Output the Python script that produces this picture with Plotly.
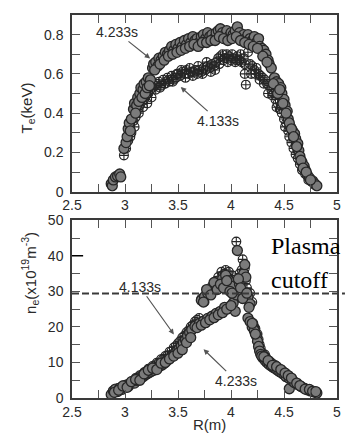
import plotly.graph_objects as go

# ---------------- data ----------------
# Top panel: Te (keV) vs R (m)
te_r_4233 = [2.87, 2.88, 2.89, 2.91, 2.93, 2.95, 2.96,
             2.99, 3.01, 3.02, 3.03, 3.04, 3.06, 3.08, 3.09, 3.11, 3.12, 3.14, 3.15, 3.17, 3.18, 3.2, 3.22, 3.24,
             3.26, 3.27, 3.29, 3.31, 3.32, 3.34, 3.36, 3.38, 3.4, 3.42, 3.44, 3.46, 3.48, 3.5, 3.52, 3.54, 3.56,
             3.58, 3.6, 3.62, 3.64, 3.66, 3.68, 3.7, 3.72, 3.74, 3.76, 3.78, 3.8, 3.82, 3.84, 3.86, 3.88, 3.9,
             3.92, 3.94, 3.96, 3.98, 4.0, 4.02, 4.04, 4.06, 4.08, 4.1, 4.12, 4.14, 4.16, 4.18, 4.2, 4.22, 4.24,
             4.26, 4.27, 4.29, 4.31, 4.33, 4.35, 4.36, 4.38,
             4.41, 4.43, 4.45, 4.47, 4.48, 4.5, 4.51, 4.53, 4.54, 4.56, 4.58, 4.6, 4.61, 4.63, 4.64, 4.65, 4.67,
             4.69, 4.7, 4.72, 4.74, 4.77, 4.79, 4.81,
             3.28, 3.33, 3.37, 3.41, 3.45, 3.49, 3.53, 3.57, 3.61, 3.65, 3.69, 3.73, 3.77, 3.81, 3.85, 3.89,
             3.93, 3.97, 4.01, 4.05, 4.09, 4.13, 4.17, 4.21, 4.25, 4.3, 4.34,
             3.05, 3.1, 3.13, 3.16, 3.19, 3.21, 3.23,
             4.4, 4.44, 4.46, 4.49, 4.52, 4.55, 4.57, 4.59, 4.62, 4.66, 4.68, 4.71, 4.75]
te_v_4233 = [0.04, 0.03, 0.06, 0.075, 0.08, 0.09, 0.075,
             0.22, 0.25, 0.28, 0.32, 0.35, 0.37, 0.42, 0.45, 0.44, 0.48, 0.5, 0.53, 0.52, 0.55, 0.56, 0.58, 0.57,
             0.63, 0.65, 0.66, 0.64, 0.68, 0.67, 0.69, 0.71, 0.7, 0.72, 0.74, 0.72, 0.75, 0.73, 0.76, 0.74, 0.77,
             0.75, 0.78, 0.76, 0.79, 0.77, 0.78, 0.76, 0.79, 0.8, 0.78, 0.81, 0.79, 0.8, 0.78, 0.81, 0.82, 0.83,
             0.81, 0.8, 0.82, 0.79, 0.81, 0.8, 0.82, 0.84, 0.81, 0.79, 0.8, 0.78, 0.8, 0.78, 0.77, 0.79, 0.76,
             0.78, 0.74, 0.73, 0.72, 0.7, 0.67, 0.65, 0.63,
             0.58, 0.56, 0.55, 0.53, 0.5, 0.47, 0.44, 0.41, 0.37, 0.33, 0.31, 0.295, 0.27, 0.245, 0.21, 0.18, 0.15,
             0.13, 0.11, 0.085, 0.07, 0.055, 0.04, 0.03,
             0.62, 0.65, 0.67, 0.69, 0.7, 0.71, 0.72, 0.73, 0.74, 0.75, 0.74, 0.76, 0.76, 0.77, 0.77, 0.79,
             0.78, 0.77, 0.78, 0.79, 0.77, 0.76, 0.75, 0.74, 0.73, 0.69, 0.66,
             0.31, 0.4, 0.46, 0.48, 0.5, 0.53, 0.54,
             0.55, 0.5, 0.52, 0.45, 0.4, 0.35, 0.32, 0.28, 0.23, 0.16, 0.12, 0.1, 0.06]

te_r_4133 = [2.99, 3.01, 3.03, 3.06, 3.08, 3.1, 3.12, 3.14, 3.16, 3.18, 3.2, 3.22, 3.24, 3.26,
             3.28, 3.3, 3.32, 3.34, 3.36, 3.38, 3.4, 3.42, 3.44, 3.46, 3.48, 3.5, 3.52, 3.54, 3.56, 3.58, 3.6,
             3.62, 3.64, 3.66, 3.68, 3.7, 3.72, 3.74, 3.76, 3.78, 3.8, 3.82, 3.84, 3.86, 3.88, 3.9, 3.92, 3.94,
             3.96, 3.98, 4.0, 4.02, 4.04, 4.06, 4.08, 4.1, 4.12, 4.13, 4.14, 4.16, 4.18, 4.2, 4.22, 4.24, 4.26,
             4.28, 4.3, 4.32, 4.34, 4.36, 4.38, 4.4, 4.42, 4.44, 4.46, 4.48, 4.5, 4.52, 4.54, 4.55, 4.57, 4.59,
             4.61, 4.63, 4.65, 4.67, 4.7, 4.73, 4.76, 4.79,
             3.29, 3.33, 3.37, 3.41, 3.45, 3.49, 3.53, 3.57, 3.61, 3.65, 3.69, 3.73, 3.77, 3.81, 3.85, 3.89,
             3.93, 3.97, 4.01, 4.05, 4.09, 4.13, 4.19, 4.23, 4.27, 4.31, 4.35, 4.39, 4.43, 4.47, 4.51,
             3.05, 3.09, 3.13, 3.17, 3.21, 3.25]
te_v_4133 = [0.185, 0.22, 0.26, 0.3, 0.36, 0.38, 0.42, 0.44, 0.46, 0.47, 0.49, 0.5, 0.52, 0.53,
             0.54, 0.55, 0.56, 0.54, 0.57, 0.55, 0.58, 0.56, 0.59, 0.57, 0.58, 0.6, 0.59, 0.61, 0.6, 0.62, 0.6,
             0.61, 0.59, 0.62, 0.6, 0.62, 0.61, 0.63, 0.62, 0.64, 0.63, 0.65, 0.64, 0.66, 0.68, 0.69, 0.7, 0.68,
             0.7, 0.69, 0.67, 0.68, 0.66, 0.69, 0.67, 0.66, 0.68, 0.6, 0.545, 0.71, 0.65, 0.64, 0.62, 0.63, 0.6,
             0.59, 0.58, 0.57, 0.55, 0.54, 0.52, 0.5, 0.47, 0.45, 0.42, 0.4, 0.37, 0.35, 0.31, 0.28, 0.25, 0.22,
             0.19, 0.17, 0.14, 0.11, 0.09, 0.06, 0.05, 0.035,
             0.52, 0.53, 0.55, 0.57, 0.56, 0.6, 0.62, 0.58, 0.63, 0.61, 0.64, 0.6, 0.66, 0.61, 0.62, 0.65,
             0.67, 0.66, 0.7, 0.67, 0.7, 0.65, 0.6, 0.6, 0.57, 0.55, 0.5, 0.49, 0.43, 0.44, 0.33,
             0.28, 0.33, 0.4, 0.43, 0.45, 0.48]

# Bottom panel: ne (1e19 m^-3) vs R (m)
ne_r_4233 = [2.87, 2.89, 2.91, 2.93, 2.95, 2.97, 2.99, 3.01, 3.03, 3.05, 3.07, 3.09, 3.11, 3.13, 3.15, 3.17,
             3.19, 3.21, 3.23, 3.25, 3.27, 3.29, 3.31, 3.33, 3.35, 3.37, 3.39, 3.41, 3.43, 3.45, 3.47, 3.49,
             3.51, 3.53, 3.55, 3.57, 3.59, 3.61, 3.63, 3.66, 3.7, 3.74, 3.78, 3.82, 3.86, 3.9, 3.94,
             3.72, 3.75, 3.78, 3.8, 3.83, 3.86, 3.89, 3.92, 3.95, 3.98, 4.0, 4.02, 4.04, 4.05, 4.06, 4.08, 4.1,
             4.12, 4.13, 4.14, 4.16, 4.18, 4.17,
             4.16, 4.18, 4.2, 4.22, 4.24, 4.25, 4.26, 4.27, 4.28, 4.3, 4.32, 4.34, 4.36, 4.38, 4.4, 4.42, 4.44,
             4.46, 4.48, 4.5, 4.52, 4.55, 4.55, 4.58, 4.6, 4.63, 4.66, 4.69, 4.72, 4.75, 4.78, 4.81,
             2.9, 2.94, 2.98, 3.02, 3.06, 3.1, 3.14, 3.18, 3.22, 3.26, 3.3, 3.34, 3.38, 3.42, 3.46, 3.5,
             3.54, 3.58, 3.62, 3.68, 3.72, 3.76, 3.8, 3.84, 3.88, 3.92, 3.96, 4.0,
             3.74, 3.77, 3.81, 3.84, 3.87, 3.9, 3.93, 3.96, 3.99, 4.01, 4.07, 4.09, 4.11, 4.15,
             4.2, 4.23, 4.29, 4.31, 4.35, 4.39, 4.43, 4.47, 4.51, 4.54, 4.57, 4.62, 4.65, 4.7, 4.74, 4.77, 4.8]
ne_v_4233 = [1.0, 2.0, 2.5, 1.8, 2.8, 2.4, 3.0, 3.6, 3.2, 4.0, 4.5, 4.2, 5.0, 5.4, 5.8, 6.0,
             6.5, 6.8, 7.2, 7.5, 7.8, 8.2, 8.6, 9.0, 9.3, 9.8, 10.4, 10.9, 11.5, 12.0, 12.6, 13.2,
             13.8, 14.6, 15.5, 16.4, 17.5, 18.4, 19.2, 20.2, 20.9, 21.6, 22.4, 23.0, 23.8, 24.4, 25.5,
             27.5, 28.5, 29.5, 30.5, 31.0, 32.0, 33.0, 33.5, 34.5, 33.0, 31.5, 26.7, 24.4, 29.0, 41.5, 32.0, 30.0,
             35.0, 37.5, 34.0, 28.5, 26.5, 25.5,
             22.5, 21.5, 20.0, 19.0, 17.5, 16.0, 14.5, 13.2, 12.3, 11.3, 10.6, 10.0, 9.4, 9.0, 8.6, 8.2, 7.8,
             7.4, 7.0, 6.6, 6.0, 5.5, 2.6, 4.8, 4.3, 3.8, 3.2, 2.8, 2.3, 2.0, 1.7, 1.4,
             1.6, 2.2, 3.4, 3.0, 4.6, 5.2, 5.0, 6.8, 7.8, 8.4, 8.0, 9.8, 10.0, 11.0, 11.8, 12.6,
             13.6, 15.6, 17.0, 19.8, 20.5, 21.2, 22.0, 22.6, 23.4, 24.0, 25.0, 26.0,
             27.0, 30.5, 29.0, 32.5, 30.5, 32.0, 31.0, 33.0, 30.0, 29.5, 33.5, 31.0, 28.0, 29.5,
             21.0, 18.0, 11.8, 11.6, 10.5, 9.2, 8.8, 8.0, 7.0, 6.3, 5.6, 4.2, 3.5, 2.5, 2.4, 1.9, 1.8]

ne_r_4133 = [2.88, 2.92, 2.96, 3.0, 3.04, 3.08, 3.12, 3.16, 3.2, 3.24, 3.28, 3.32, 3.36, 3.4, 3.44, 3.48,
             3.52, 3.56, 3.6, 3.64, 3.68, 3.7,
             3.72, 3.75, 3.78, 3.82, 3.85, 3.88, 3.91, 3.94, 3.97, 4.0, 4.03, 4.05, 4.08, 4.11, 4.13, 4.15,
             4.18, 4.2, 4.21, 4.23, 4.26, 4.28, 4.3, 4.33, 4.36, 4.4, 4.44, 4.48, 4.52, 4.56, 4.6, 4.64,
             4.68, 4.72, 4.76, 4.8,
             2.9, 2.94, 2.98, 3.02, 3.06, 3.1, 3.14, 3.18, 3.22, 3.26, 3.3, 3.34, 3.38, 3.42, 3.46, 3.5,
             3.54, 3.58, 3.62, 3.66,
             3.8, 3.83, 3.86, 3.89, 3.92, 3.95, 3.98, 4.01, 4.1, 4.14,
             4.22, 4.25, 4.27, 4.32, 4.38, 4.42, 4.46, 4.5, 4.54, 4.58, 4.62, 4.66, 4.7, 4.74, 4.78]
ne_v_4133 = [1.5, 2.3, 3.0, 3.2, 4.0, 4.8, 5.8, 6.5, 7.5, 8.3, 9.2, 10.0, 11.0, 12.0, 13.2, 14.6,
             16.0, 17.5, 19.0, 20.5, 22.0, 22.5,
             28.0, 27.0, 30.0, 31.5, 32.5, 34.0, 35.5, 35.0, 34.0, 33.0, 27.5, 44.0, 35.0, 39.0, 36.5, 31.0,
             29.5, 27.0, 21.0, 19.5, 16.5, 14.0, 12.5, 11.5, 10.5, 9.5, 8.6, 7.8, 6.8, 5.6, 4.6, 3.6,
             2.8, 2.3, 1.9, 1.6,
             2.0, 2.8, 3.5, 3.8, 4.6, 5.6, 6.4, 7.2, 8.2, 9.0, 9.9, 10.9, 11.8, 13.0, 14.2, 15.4,
             17.0, 18.5, 20.0, 21.5,
             29.0, 30.5, 33.0, 32.5, 34.5, 36.0, 35.5, 34.5, 36.0, 33.0,
             20.0, 18.0, 15.0, 12.2, 10.0, 9.2, 8.2, 7.4, 6.2, 5.2, 4.0, 3.2, 2.6, 2.1, 1.8]

cutoff_ne = 29.4
x_ticks = [2.5, 3, 3.5, 4, 4.5, 5]

# ---------------- figure ----------------
fig = go.Figure()

open_marker = dict(symbol="circle-cross-open", size=9, color="#262626", line=dict(width=1.1, color="#262626"))
filled_marker = dict(symbol="circle", size=10, color="#7b7b7b", line=dict(width=1.3, color="#262626"))

fig.add_trace(go.Scatter(x=te_r_4133, y=te_v_4133, mode="markers", marker=open_marker,
                         xaxis="x", yaxis="y", showlegend=False))
fig.add_trace(go.Scatter(x=te_r_4233, y=te_v_4233, mode="markers", marker=filled_marker,
                         xaxis="x", yaxis="y", showlegend=False))
fig.add_trace(go.Scatter(x=ne_r_4133, y=ne_v_4133, mode="markers", marker=open_marker,
                         xaxis="x2", yaxis="y2", showlegend=False))
fig.add_trace(go.Scatter(x=ne_r_4233, y=ne_v_4233, mode="markers", marker=filled_marker,
                         xaxis="x2", yaxis="y2", showlegend=False))

tickfont = dict(family="Liberation Sans", size=14, color="#2a2a2a")
axis_common = dict(showline=True, linecolor="#3a3a3a", linewidth=1.5, mirror="allticks",
                   ticks="inside", ticklen=8, tickwidth=1, tickcolor="#555",
                   showgrid=False, zeroline=False, tickfont=tickfont)
minor_common = dict(ticks="inside", ticklen=8, tickcolor="#555")

fig.update_layout(
    width=348, height=437,
    margin=dict(l=72, r=7, t=10, b=39),
    paper_bgcolor="white", plot_bgcolor="white",
    xaxis=dict(domain=[0, 1], range=[2.5, 5], anchor="y", tickvals=x_ticks,
               ticktext=[str(v) for v in x_ticks], minor=dict(dtick=0.25, **minor_common), **axis_common),
    yaxis=dict(domain=[0.5387, 1], range=[0, 0.9], anchor="x", dtick=0.2, tick0=0,
               minor=dict(dtick=0.1, **minor_common), ticklabelstandoff=4, **axis_common),
    xaxis2=dict(domain=[0, 1], range=[2.5, 5], anchor="y2", tickvals=x_ticks,
                ticktext=[str(v) for v in x_ticks], minor=dict(dtick=0.25, **minor_common), **axis_common),
    yaxis2=dict(domain=[0, 0.464], range=[0, 50], anchor="x2", dtick=10, tick0=0,
                minor=dict(dtick=5, **minor_common), ticklabelstandoff=4, **axis_common),
)

# dashed cutoff line (extends past the frame)
fig.add_shape(type="line", xref="paper", yref="y2", x0=0, x1=1.03, y0=cutoff_ne, y1=cutoff_ne,
              line=dict(color="#3a3a3a", width=2, dash="7px,3px"))
# darker tick at 40
fig.add_shape(type="line", xref="paper", yref="y2", x0=0, x1=0.042, y0=40, y1=40,
              line=dict(color="black", width=1.5))

arrow_col = "#555555"
lab_font = dict(family="Liberation Sans", size=14, color="#2a2a2a")


def label_arrow(xr, yr, text, tx, ty, hx, hy):
    # text centred at (tx, ty); arrow runs from the text box to the head at (hx, hy)
    fig.add_annotation(x=hx, y=hy, ax=tx, ay=ty, xref=xr, yref=yr, axref=xr, ayref=yr, text=text,
                       font=lab_font, showarrow=True, arrowhead=2, arrowsize=0.9, arrowwidth=1.2,
                       arrowcolor=arrow_col, xanchor="center", yanchor="middle", standoff=0)


label_arrow("x", "y", "4.233s", 2.92, 0.814, 3.237, 0.678)
label_arrow("x", "y", "4.133s", 3.88, 0.362, 3.526, 0.533)
label_arrow("x2", "y2", "4.133s", 3.14, 31.3, 3.461, 17.9)
label_arrow("x2", "y2", "4.233s", 4.048, 4.9, 3.741, 13.7)

serif = dict(family="Liberation Serif", size=24, color="black")
fig.add_annotation(x=0.7425, y=42.8, xref="paper", yref="y2", text="Plasma", showarrow=False,
                   xanchor="left", yanchor="middle", font=serif)
fig.add_annotation(x=0.7425, y=33.2, xref="paper", yref="y2", text="cutoff", showarrow=False,
                   xanchor="left", yanchor="middle", font=serif)

title_font = dict(family="Liberation Sans", size=15, color="#2a2a2a")
fig.add_annotation(x=-0.167, y=0.758, xref="paper", yref="paper", text="T<sub>e</sub>(keV)",
                   textangle=-90, showarrow=False, font=title_font, xanchor="center", yanchor="middle")
fig.add_annotation(x=-0.158, y=0.327, xref="paper", yref="paper",
                   text="n<sub>e</sub>(x10<sup>19</sup>m<sup>-3</sup>)",
                   textangle=-90, showarrow=False, font=title_font, xanchor="center", yanchor="middle")
fig.add_annotation(x=0.52, y=-0.068, xref="paper", yref="paper", text="R(m)",
                   showarrow=False, font=title_font, xanchor="center", yanchor="middle")

fig.write_html("out.html")
